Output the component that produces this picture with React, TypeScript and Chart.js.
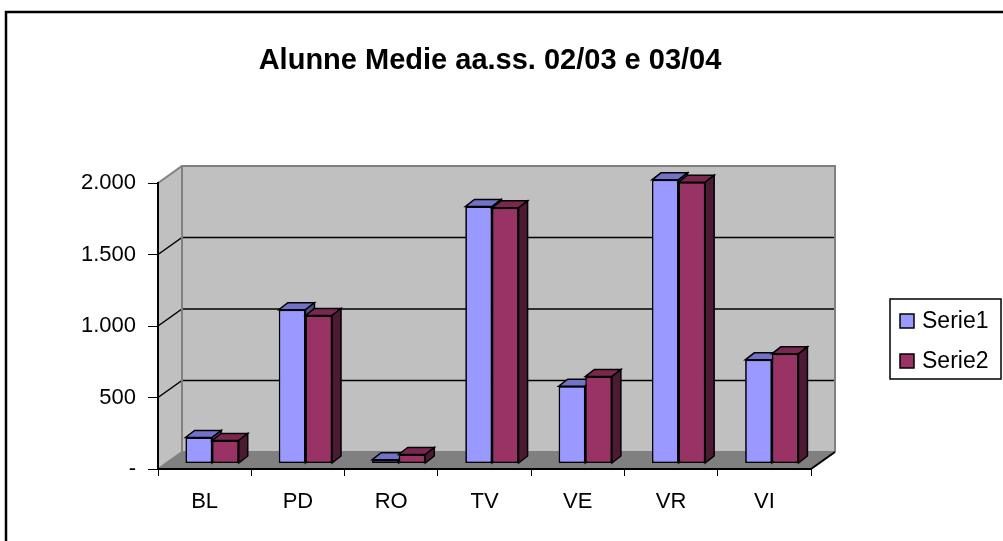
import React, { useEffect, useRef } from "react";
import { Chart, registerables } from "chart.js";

Chart.register(...registerables);

const categories = ["BL", "PD", "RO", "TV", "VE", "VR", "VI"];
const serie1 = [182, 1075, 27, 1797, 541, 1984, 725];
const serie2 = [161, 1035, 63, 1788, 608, 1967, 767];
const seriesNames = ["Serie1", "Serie2"];
const yTickValues = [0, 500, 1000, 1500, 2000];
const yTickLabels = ["-", "500", "1.000", "1.500", "2.000"];
const titleText = "Alunne Medie aa.ss. 02/03 e 03/04";

const FONT = "'Liberation Sans', Arial, sans-serif";
const WALL = { dx: 24, dy: -17 };
const BAR_SHIFT = { dx: 7.5, dy: -5.5 };
const BAR_DEPTH = { dx: 9, dy: -7 };
const palette = [
  { front: "#9999FF", top: "#7272C8", side: "#4C4C80" },
  { front: "#993366", top: "#7A2850", side: "#4C1A33" },
];

function poly(ctx: CanvasRenderingContext2D, pts: number[][], fill: string, stroke: string, lw: number) {
  ctx.beginPath();
  ctx.moveTo(pts[0][0], pts[0][1]);
  for (let i = 1; i < pts.length; i++) ctx.lineTo(pts[i][0], pts[i][1]);
  ctx.closePath();
  if (fill) {
    ctx.fillStyle = fill;
    ctx.fill();
  }
  if (stroke) {
    ctx.strokeStyle = stroke;
    ctx.lineWidth = lw;
    ctx.lineJoin = "miter";
    ctx.stroke();
  }
}

const wallsPlugin = {
  id: "walls3d",
  beforeDraw(chart: any) {
    const { ctx, chartArea: a, scales } = chart;
    const ys = scales.y;
    const { dx, dy } = WALL;
    ctx.save();
    poly(ctx, [[a.left + dx, a.top + dy], [a.right + dx, a.top + dy], [a.right + dx, a.bottom + dy], [a.left + dx, a.bottom + dy]], "#C0C0C0", "", 0);
    poly(ctx, [[a.left, a.top], [a.left + dx, a.top + dy], [a.left + dx, a.bottom + dy], [a.left, a.bottom]], "#C0C0C0", "", 0);
    poly(ctx, [[a.left, a.bottom], [a.right, a.bottom], [a.right + dx, a.bottom + dy], [a.left + dx, a.bottom + dy]], "#808080", "", 0);
    ctx.strokeStyle = "#000000";
    ctx.lineWidth = 1.5;
    yTickValues.forEach((v) => {
      if (v <= 0 || v >= 2000) return;
      const py = ys.getPixelForValue(v);
      ctx.beginPath();
      ctx.moveTo(a.left, py);
      ctx.lineTo(a.left + dx, py + dy);
      ctx.lineTo(a.right + dx, py + dy);
      ctx.stroke();
    });
    ctx.strokeStyle = "#808080";
    ctx.lineWidth = 2;
    ctx.beginPath();
    ctx.moveTo(a.left, a.top);
    ctx.lineTo(a.left + dx, a.top + dy);
    ctx.lineTo(a.right + dx, a.top + dy);
    ctx.lineTo(a.right + dx, a.bottom + dy);
    ctx.moveTo(a.left + dx, a.top + dy);
    ctx.lineTo(a.left + dx, a.bottom + dy);
    ctx.lineTo(a.right + dx, a.bottom + dy);
    ctx.moveTo(a.left, a.bottom);
    ctx.lineTo(a.left + dx, a.bottom + dy);
    ctx.stroke();
    ctx.strokeStyle = "#000000";
    ctx.lineWidth = 2;
    ctx.beginPath();
    ctx.moveTo(a.right, a.bottom);
    ctx.lineTo(a.right + dx, a.bottom + dy);
    ctx.stroke();
    ctx.restore();
  },
};

function drawFaces(ctx: CanvasRenderingContext2D, el: any, c: any) {
  const { x, y, base, width } = el.getProps(["x", "y", "base", "width"], true);
  const l = x - width / 2;
  const r = x + width / 2;
  const { dx, dy } = BAR_DEPTH;
  poly(ctx, [[l, y], [r, y], [r + dx, y + dy], [l + dx, y + dy]], c.top, "#000000", 1.5);
  poly(ctx, [[r, y], [r + dx, y + dy], [r + dx, base + dy], [r, base]], c.side, "#000000", 1.5);
}

const barsPlugin = {
  id: "bars3d",
  beforeDatasetsDraw(chart: any) {
    chart.ctx.save();
    chart.ctx.translate(BAR_SHIFT.dx, BAR_SHIFT.dy);
  },
  afterDatasetsDraw(chart: any) {
    const ctx = chart.ctx;
    const m0 = chart.getDatasetMeta(0);
    const m1 = chart.getDatasetMeta(1);
    for (let i = 0; i < categories.length; i++) {
      const e0 = m0.data[i];
      const e1 = m1.data[i];
      e0.draw(ctx);
      drawFaces(ctx, e0, palette[0]);
      e1.draw(ctx);
      drawFaces(ctx, e1, palette[1]);
    }
    ctx.restore();
  },
};

const decorPlugin = {
  id: "decor",
  afterDraw(chart: any) {
    const ctx = chart.ctx;
    ctx.save();
    ctx.strokeStyle = "#000000";
    ctx.lineWidth = 2.5;
    ctx.beginPath();
    ctx.moveTo(6, 545);
    ctx.lineTo(6, 12);
    ctx.lineTo(1010, 12);
    ctx.stroke();
    ctx.fillStyle = "#000000";
    ctx.font = `bold 29px ${FONT}`;
    ctx.textAlign = "center";
    ctx.textBaseline = "alphabetic";
    ctx.fillText(titleText, 490, 69);
    ctx.lineWidth = 1.5;
    ctx.strokeRect(890, 299, 111, 80);
    ctx.font = `23px ${FONT}`;
    ctx.textAlign = "left";
    ctx.textBaseline = "middle";
    seriesNames.forEach((name, i) => {
      const yy = 321 + i * 40;
      ctx.fillStyle = palette[i].front;
      ctx.fillRect(900, yy - 7, 14, 14);
      ctx.strokeStyle = "#000000";
      ctx.strokeRect(900, yy - 7, 14, 14);
      ctx.fillStyle = "#000000";
      ctx.fillText(name, 922, yy + 1);
    });
    ctx.restore();
  },
};

export default function App() {
  const ref = useRef<HTMLCanvasElement | null>(null);
  useEffect(() => {
    if (!ref.current) return;
    const chart = new Chart(ref.current, {
      type: "bar",
      data: {
        labels: categories,
        datasets: [
          {
            label: seriesNames[0],
            data: serie1,
            backgroundColor: palette[0].front,
            borderColor: "#000000",
            borderWidth: 1.5,
            borderSkipped: false,
            clip: false,
          },
          {
            label: seriesNames[1],
            data: serie2,
            backgroundColor: palette[1].front,
            borderColor: "#000000",
            borderWidth: 1.5,
            borderSkipped: false,
            clip: false,
          },
        ],
      } as any,
      options: {
        responsive: false,
        animation: false,
        devicePixelRatio: 1,
        layout: { padding: { left: 0, top: 183, right: 192, bottom: 0 } },
        datasets: { bar: { categoryPercentage: 0.57, barPercentage: 1 } },
        plugins: {
          legend: { display: false },
          title: { display: false },
          tooltip: { enabled: false },
        },
        scales: {
          x: {
            grid: { display: true, drawOnChartArea: false, drawTicks: true, tickLength: 7, color: "#000000", offset: true },
            border: { display: true, color: "#000000", width: 2 },
            ticks: { color: "#000000", font: { family: FONT, size: 22 }, padding: 13 },
            afterFit: (s: any) => {
              s.height = 541 - 469;
            },
          },
          y: {
            min: 0,
            max: 2000,
            afterBuildTicks: (s: any) => {
              s.ticks = yTickValues.map((v) => ({ value: v }));
            },
            grid: { display: true, drawOnChartArea: false, drawTicks: true, tickLength: 10, color: "#000000" },
            border: { display: true, color: "#000000", width: 2 },
            ticks: {
              color: "#000000",
              font: { family: FONT, size: 22 },
              padding: 12,
              callback: (v: any) => {
                const idx = yTickValues.indexOf(Number(v));
                return idx >= 0 ? yTickLabels[idx] : "";
              },
            },
            afterFit: (s: any) => {
              s.width = 158;
            },
          },
        },
      },
      plugins: [wallsPlugin, barsPlugin, decorPlugin],
    } as any);
    return () => chart.destroy();
  }, []);
  return (
    <div style={{ position: "fixed", left: 0, top: 0, width: 1003, height: 541, background: "#ffffff" }}>
      <canvas ref={ref} width={1003} height={541} style={{ display: "block", width: 1003, height: 541 }} />
    </div>
  );
}
